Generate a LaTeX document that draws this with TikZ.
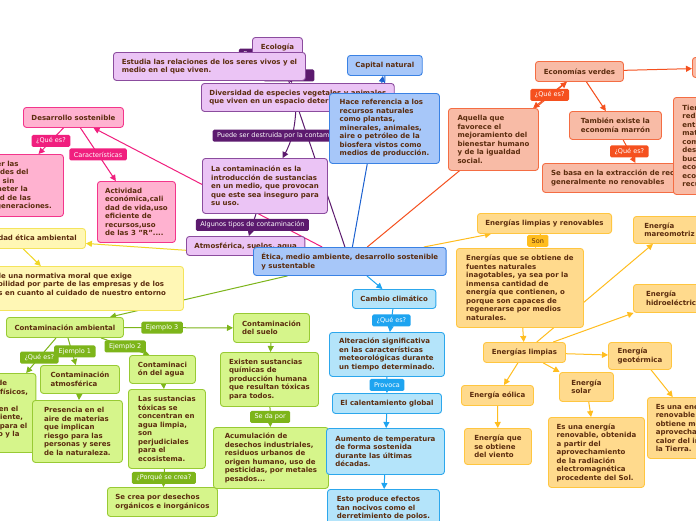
\documentclass[tikz,border=0pt]{standalone}
\usepackage{fontspec}
\setmainfont{DejaVu Sans}
\usetikzlibrary{arrows.meta}
\definecolor{txt}{HTML}{5B2C0E}
\definecolor{purfill}{HTML}{EBC4F5}
\definecolor{purdraw}{HTML}{8B4C9E}
\definecolor{purline}{HTML}{5C1A6E}
\definecolor{pinkfill}{HTML}{FFB2D0}
\definecolor{pinkdraw}{HTML}{F3358B}
\definecolor{pinkline}{HTML}{F01F7E}
\definecolor{bluefill}{HTML}{A7C7F9}
\definecolor{bluedraw}{HTML}{3A82E4}
\definecolor{blueline}{HTML}{1C61D0}
\definecolor{salfill}{HTML}{F8BBA6}
\definecolor{saldraw}{HTML}{F46D43}
\definecolor{salline}{HTML}{F5501E}
\definecolor{yelfill}{HTML}{FFF7B5}
\definecolor{yeldraw}{HTML}{F4E45C}
\definecolor{yelline}{HTML}{F0D726}
\definecolor{grnfill}{HTML}{D6F58B}
\definecolor{grndraw}{HTML}{98CA34}
\definecolor{grnline}{HTML}{7DB51A}
\definecolor{cyafill}{HTML}{B4E4FA}
\definecolor{cyadraw}{HTML}{2CA7EC}
\definecolor{cyaline}{HTML}{1EA4F0}
\definecolor{enefill}{HTML}{FFDA8D}
\definecolor{enedraw}{HTML}{FFC640}
\definecolor{eneline}{HTML}{FFBD1F}
\newcommand{\boxfont}{\fontsize{7}{8.5}\selectfont\bfseries}
\newcommand{\lblfont}{\fontsize{6.5}{7}\selectfont}
\pgfdeclarelayer{bg}
\pgfsetlayers{bg,main}
\tikzset{
  card/.style   = {draw, rounded corners=3pt, line width=0.9pt, anchor=north west,
                   inner xsep=8pt, inner ysep=1pt, align=left, text=txt, font=\boxfont},
  sz/.style 2 args = {minimum width=#1pt, minimum height=#2pt},
  bpur/.style   = {card, fill=purfill, draw=purdraw},
  bpink/.style  = {card, fill=pinkfill, draw=pinkdraw},
  bblue/.style  = {card, fill=bluefill, draw=bluedraw},
  bsal/.style   = {card, fill=salfill, draw=saldraw},
  byel/.style   = {card, fill=yelfill, draw=yeldraw},
  bgrn/.style   = {card, fill=grnfill, draw=grndraw},
  bcya/.style   = {card, fill=cyafill, draw=cyadraw},
  bene/.style   = {card, fill=enefill, draw=enedraw},
  lbl/.style    = {font=\lblfont, text=white, inner xsep=4.5pt, inner ysep=0pt,
                   minimum height=12pt, rounded corners=1.5pt},
  lpur/.style   = {lbl, fill=purline},
  lpink/.style  = {lbl, fill=pinkline},
  lsal/.style   = {lbl, fill=salline},
  lgrn/.style   = {lbl, fill=grnline},
  lcya/.style   = {lbl, fill=cyaline},
  lene/.style   = {lbl, fill=eneline, text=txt},
  conn/.style   = {line width=1pt, -{Triangle[length=6pt,width=6pt]}},
  cpur/.style   = {conn, draw=purline},
  cpink/.style  = {conn, draw=pinkline},
  cblue/.style  = {conn, draw=blueline},
  csal/.style   = {conn, draw=salline},
  cyel/.style   = {conn, draw=yelline},
  cgrn/.style   = {conn, draw=grnline},
  ccya/.style   = {conn, draw=cyaline},
  cene/.style   = {conn, draw=eneline}
}
\begin{document}
\begin{tikzpicture}[x=1pt, y=-1pt]
  \useasboundingbox (0,0) rectangle (696,520);
  % ecologia
  \node[bpur, sz={50}{20}, align=center] (ecologia) at (252,37) {Ecología};
  \node[bpur, sz={192}{28}] (estudia) at (113,52)
    {Estudia las relaciones de los seres vivos y el\\medio en el que viven.};
  \node[bpur, sz={191}{28}] (diversidad) at (201,83)
    {Diversidad de especies vegetales y animales\\que viven en un espacio determinado.};
  \node[bpur, sz={125}{55}] (contam) at (202,158)
    {La contaminación es la\\introducción de sustancias\\en un medio, que provocan\\que este sea inseguro para\\su uso.};
  \node[bpur, sz={117}{19}] (atmos) at (186,236) {Atmosférica, suelos, agua};
  % desarrollo sostenible
  \node[bpink, sz={100}{20}, align=center] (desarrollo) at (23,107) {Desarrollo sostenible};
  \node[bpink, sz={110}{62}] (satisf) at (-47,154)
    {Satisfacer las\\necesidades del\\presente sin\\comprometer la\\capacidad de las\\futuras generaciones.};
  \node[bpink, sz={78}{61}, inner xsep=6pt] (actividad) at (97,181)
    {Actividad\\económica,cali\\dad de vida,uso\\eficiente de\\recursos,uso\\de las 3 "R"....};
  % centro
  \node[bblue, sz={191}{28}] (etica) at (253,247)
    {Ética, medio ambiente, desarrollo sostenible\\y sustentable};
  \node[bblue, sz={74}{20}, align=center] (capital) at (347,55) {Capital natural};
  \node[bblue, sz={110}{70}] (hace) at (329,93)
    {Hace referencia a los\\recursos naturales\\como plantas,\\minerales, animales,\\aire o petróleo de la\\biosfera vistos como\\medios de producción.};
  % economias verdes
  \node[bsal, sz={90}{62}] (aquella) at (448,108)
    {Aquella que\\favorece el\\mejoramiento del\\bienestar humano\\y de la igualdad\\social.};
  \node[bsal, sz={88}{20}, align=center] (economias) at (535,61) {Economías verdes};
  \node[bsal, sz={92}{20}, align=center] (circular) at (692,57) {Economía circular};
  \node[bsal, sz={92}{28}] (marron) at (569,111) {También existe la\\economía marrón};
  \node[bsal, sz={202}{29}] (sebasa) at (542,163)
    {Se basa en la extracción de recursos naturales\\generalmente no renovables};
  \node[bsal, sz={109}{97}] (tiene) at (673,97)
    {Tiene como objetivo\\reducir tanto la\\entrada de los\\materiales vírgenes\\como la producción de\\desechos, cerrando los\\bucles o flujos\\económicos y\\ecológicos de los\\recursos.};
  % etica ambiental
  \node[byel, sz={146}{20}, align=center] (eticaamb) at (-61,228) {Responsabilidad ética ambiental};
  \node[byel, sz={239}{44}] (normativa) at (-56,266)
    {Se trata de una normativa moral que exige\\responsabilidad por parte de las empresas y de los\\individuos en cuanto al cuidado de nuestro entorno\\natural.};
  % contaminacion ambiental
  \node[bgrn, sz={117}{20}, align=center] (contamb) at (6,317) {Contaminación ambiental};
  \node[bgrn, sz={85}{79}] (definicion) at (-52,373)
    {Presencia de\\elementos físicos,\\químicos y\\biológicos en el\\medio ambiente,\\peligrosos para el\\ser humano y la\\salud.};
  \node[bgrn, sz={79}{28}] (atmosf) at (40,365) {Contaminación\\atmosférica};
  \node[bgrn, sz={90}{62}] (presencia) at (32,400)
    {Presencia en el\\aire de materias\\que implican\\riesgo para las\\personas y seres\\de la naturaleza.};
  \node[bgrn, sz={66}{28}] (agua) at (129,355) {Contaminaci\\ón del agua};
  \node[bgrn, sz={77}{79}] (sustancias) at (128,389)
    {Las sustancias\\tóxicas se\\concentran en\\agua limpia,\\son\\perjudiciales\\para el\\ecosistema.};
  \node[bgrn, sz={109}{29}] (secrea) at (107,487) {Se crea por desechos\\orgánicos e inorgánicos};
  \node[bgrn, sz={76}{29}] (suelo) at (233,313) {Contaminación\\del suelo};
  \node[bgrn, sz={98}{54}] (existen) at (220,352)
    {Existen sustancias\\químicas de\\producción humana\\que resultan tóxicas\\para todos.};
  \node[bgrn, sz={115}{61}] (acumul) at (213,427)
    {Acumulación de\\desechos industriales,\\residuos urbanos de\\origen humano, uso de\\pesticidas, por metales\\pesados...};
  % cambio climatico
  \node[bcya, sz={82}{19}, align=center] (cambio) at (352,289) {Cambio climático};
  \node[bcya, sz={115}{44}] (alteracion) at (329,332)
    {Alteración significativa\\en las características\\meteorológicas durante\\un tiempo determinado.};
  \node[bcya, sz={109}{20}, align=center] (calentamiento) at (332,393) {El calentamiento global};
  \node[bcya, sz={118}{46}] (aumento) at (326,428)
    {Aumento de temperatura\\de forma sostenida\\durante las últimas\\décadas.};
  \node[bcya, sz={112}{38}] (efectos) at (327,489)
    {Esto produce efectos\\tan nocivos como el\\derretimiento de polos.};
  % energias
  \node[bene, sz={133}{20}, align=center] (limpren) at (477,213) {Energías limpias y renovables};
  \node[bene, sz={127}{79}] (enerque) at (456,248)
    {Energías que se obtiene de\\fuentes naturales\\inagotables, ya sea por la\\inmensa cantidad de\\energía que contienen, o\\porque son capaces de\\regenerarse por medios\\naturales.};
  \node[bene, sz={82}{20}, align=center] (limpias) at (483,342) {Energías limpias};
  \node[bene, sz={72}{27}] (mareomotriz) at (633,216) {Energía\\mareomotriz};
  \node[bene, sz={80}{28}] (hidro) at (633,284) {Energía\\hidroeléctrica};
  \node[bene, sz={63}{27}] (geotermica) at (608,342) {Energía\\geotérmica};
  \node[bene, sz={54}{29}] (solar) at (559,372) {Energía\\solar};
  \node[bene, sz={96}{70}] (solardesc) at (548,417)
    {Es una energía\\renovable, obtenida\\a partir del\\aprovechamiento\\de la radiación\\electromagnética\\procedente del Sol.};
  \node[bene, sz={100}{61}] (geodesc) at (647,397)
    {Es una energía\\renovable que se\\obtiene mediante el\\aprovechamiento del\\calor del interior de\\la Tierra.};
  \node[bene, sz={72}{20}, align=center] (eolica) at (461,385) {Energía eólica};
  \node[bene, sz={67}{36}] (viento) at (464,428) {Energía que\\se obtiene\\del viento};

  \begin{pgfonlayer}{bg}
    \fill[white] (0,0) rectangle (696,520);
    % ramas principales
    \draw[cpur]  (etica) -- (ecologia);
    \draw[cpink] (etica) -- (desarrollo);
    \draw[cblue] (etica) -- (capital);
    \draw[csal]  (etica) -- (economias);
    \draw[cyel]  (etica) -- (eticaamb);
    \draw[cgrn]  (etica) -- (contamb);
    \draw[ccya]  (etica) -- (cambio);
    \draw[cene]  (etica) -- (limpren);
    % ecologia
    \draw[cpur] (ecologia) -- node[lpur, pos=0, xshift=-5pt]{Es} (estudia);
    \draw[cpur] (ecologia) -- node[lpur, pos=0.7, minimum width=51pt]{} (diversidad);
    \draw[cpur] (diversidad) to[bend left=12]
      node[lpur, xshift=-7pt]{Puede ser destruida por la contaminación} (contam);
    \draw[cpur] (contam) -- node[lpur]{Algunos tipos de contaminación} (atmos);
    % desarrollo sostenible
    \draw[cpink] (desarrollo) -- node[lpink]{¿Qué es?} (satisf);
    \draw[cpink] (desarrollo) -- node[lpink]{Características} (actividad);
    % capital natural
    \draw[cblue] (capital) -- (hace);
    % economias verdes
    \draw[csal] (economias) -- node[lsal]{¿Qué es?} (aquella);
    \draw[csal] (economias) -- (circular);
    \draw[csal] (economias) -- (marron);
    \draw[csal] (marron) -- node[lsal]{¿Qué es?} (sebasa);
    % etica ambiental
    \draw[cyel] (eticaamb) -- (normativa);
    % contaminacion ambiental
    \draw[cgrn] (contamb) -- node[lgrn, pos=0.56]{¿Qué es?} (definicion);
    \draw[cgrn] (contamb) -- node[lgrn, xshift=3pt]{Ejemplo 1} (atmosf);
    \draw[cgrn] ([xshift=36pt]contamb.south) -- node[lgrn]{Ejemplo 2} ([xshift=-13pt]agua.north);
    \draw[cgrn] (contamb) -- node[lgrn, pos=0.35]{Ejemplo 3} (suelo);
    \draw[cgrn] (atmosf) -- (presencia);
    \draw[cgrn] (agua) -- (sustancias);
    \draw[cgrn] (sustancias) -- node[lgrn]{¿Porqué se crea?} (secrea);
    \draw[cgrn] (suelo) -- (existen);
    \draw[cgrn] (existen) -- node[lgrn]{Se da por} (acumul);
    % cambio climatico
    \draw[ccya] (cambio) -- node[lcya]{¿Qué es?} (alteracion);
    \draw[ccya] (alteracion) -- node[lcya]{Provoca} (calentamiento);
    \draw[ccya] (calentamiento) -- (aumento);
    \draw[ccya] (aumento) -- (efectos);
    % energias
    \draw[cene] (limpren) -- node[lene]{Son} (enerque);
    \draw[cene] (enerque) -- (limpias);
    \draw[cene] (limpias) -- (mareomotriz);
    \draw[cene] (limpias) -- (hidro);
    \draw[cene] (limpias) -- (geotermica);
    \draw[cene] (limpias) -- (solar);
    \draw[cene] (limpias) -- (eolica);
    \draw[cene] (eolica) -- (viento);
    \draw[cene] (solar) -- (solardesc);
    \draw[cene] (geotermica) -- (geodesc);
  \end{pgfonlayer}
\end{tikzpicture}
\end{document}
